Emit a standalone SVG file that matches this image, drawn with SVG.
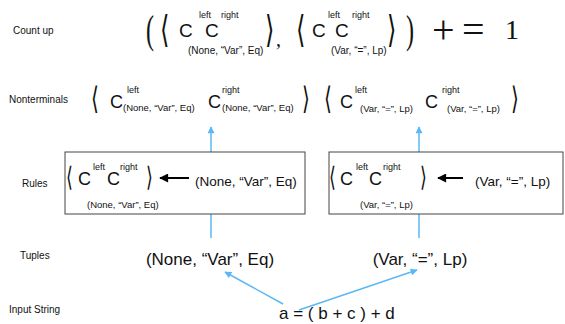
<svg xmlns="http://www.w3.org/2000/svg" width="565" height="324" viewBox="0 0 565 324">
<style>
text { font-family: "Liberation Sans", Arial, sans-serif; fill: #111; }
.lbl { font-size: 10px; }
.C1 { font-size: 19px; }
.C2 { font-size: 18px; }
.sup { font-size: 9px; }
.sub { font-size: 10px; }
.sub2 { font-size: 9.5px; }
.tup { font-size: 13.5px; }
.big { font-size: 17px; }
.br { font-family: "DejaVu Sans", sans-serif; }
.math { font-family: "Liberation Serif", serif; }
.blue { stroke: #5BB8F5; stroke-width: 1.5; fill: none; }
.box { fill: #fff; stroke: #444; stroke-width: 1; }
.blk { stroke: #000; stroke-width: 2; fill: none; }
</style>
<defs>
<marker id="bh" viewBox="0 0 10 10" refX="9" refY="5" markerUnits="userSpaceOnUse" markerWidth="8" markerHeight="7" orient="auto">
<path d="M0,0 L10,5 L0,10 Z" fill="#5BB8F5"/>
</marker>
<marker id="kh" viewBox="0 0 10 10" refX="9" refY="5" markerUnits="userSpaceOnUse" markerWidth="12" markerHeight="9" orient="auto">
<path d="M0,0 L10,5 L0,10 Z" fill="#000"/>
</marker>
</defs>

<g id="labels">
<text class="lbl" x="13" y="34">Count up</text>
<text class="lbl" x="9" y="103">Nonterminals</text>
<text class="lbl" x="22" y="187">Rules</text>
<text class="lbl" x="20" y="259">Tuples</text>
<text class="lbl" x="9" y="313">Input String</text>
</g>

<g id="connectors">
<path class="blue" d="M211,238 V127" marker-end="url(#bh)"/>
<path class="blue" d="M419,238 V127" marker-end="url(#bh)"/>
<path class="blue" d="M283,304 L225,272" marker-end="url(#bh)"/>
<path class="blue" d="M299,310 L417,270" marker-end="url(#bh)"/>
</g>

<g id="countup">
<text class="math" font-size="40" transform="translate(146,43) scale(0.6,1)">(</text>
<text class="br" font-size="37" transform="translate(160,42) scale(0.65,1)">⟨</text>
<text class="C1" x="179" y="37">C</text>
<text class="sup" x="199" y="18">left</text>
<text class="C1" x="205" y="37">C</text>
<text class="sup" x="221" y="18">right</text>
<text class="sub" x="188" y="54">(None, “Var”, Eq)</text>
<text class="br" font-size="37" transform="translate(265,42) scale(0.65,1)">⟩</text>
<text class="math" font-size="20" x="276" y="46">,</text>
<text class="br" font-size="37" transform="translate(296,42) scale(0.65,1)">⟨</text>
<text class="C1" x="312" y="37">C</text>
<text class="sup" x="328" y="18">left</text>
<text class="C1" x="335" y="37">C</text>
<text class="sup" x="352" y="18">right</text>
<text class="sub" x="331" y="54">(Var, “=”, Lp)</text>
<text class="br" font-size="37" transform="translate(387,42) scale(0.65,1)">⟩</text>
<text class="math" font-size="40" transform="translate(406,43) scale(0.6,1)">)</text>
<text class="math" font-size="40" x="432" y="43">+</text>
<text class="math" font-size="40" x="462" y="43">=</text>
<text class="math" font-size="28" x="505" y="39">1</text>
</g>

<g id="nonterminals">
<text class="br" font-size="31" transform="translate(91,109) scale(0.65,1)">⟨</text>
<text class="C2" x="110" y="108">C</text>
<text class="sup" x="127" y="93">left</text>
<text class="sub2" x="123" y="111">(None, “Var”, Eq)</text>
<text class="C2" x="208" y="108">C</text>
<text class="sup" x="222" y="93">right</text>
<text class="sub2" x="222" y="111">(None, “Var”, Eq)</text>
<text class="br" font-size="31" transform="translate(302,109) scale(0.65,1)">⟩</text>
<text class="br" font-size="31" transform="translate(324,109) scale(0.65,1)">⟨</text>
<text class="C2" x="340" y="108">C</text>
<text class="sup" x="355" y="93">left</text>
<text class="sub2" x="360" y="112">(Var, “=”, Lp)</text>
<text class="C2" x="425" y="108">C</text>
<text class="sup" x="442" y="93">right</text>
<text class="sub2" x="447" y="112">(Var, “=”, Lp)</text>
<text class="br" font-size="31" transform="translate(511,109) scale(0.65,1)">⟩</text>
</g>

<g id="rule1">
<rect class="box" x="65" y="152" width="240" height="62"/>
<text class="br" font-size="27" transform="translate(66,186) scale(0.65,1)">⟨</text>
<text class="C2" x="78" y="185">C</text>
<text class="sup" x="93" y="170">left</text>
<text class="C2" x="107" y="185">C</text>
<text class="sup" x="120" y="170">right</text>
<text class="sub2" x="87" y="208">(None, “Var”, Eq)</text>
<text class="br" font-size="27" transform="translate(146,186) scale(0.65,1)">⟩</text>
<path class="blk" d="M189,178 H160" marker-end="url(#kh)"/>
<text class="tup" x="195" y="186">(None, “Var”, Eq)</text>
</g>

<g id="rule2">
<rect class="box" x="329" y="152" width="234" height="62"/>
<text class="br" font-size="27" transform="translate(329,186) scale(0.65,1)">⟨</text>
<text class="C2" x="340" y="185">C</text>
<text class="sup" x="356" y="170">left</text>
<text class="C2" x="369" y="185">C</text>
<text class="sup" x="383" y="170">right</text>
<text class="sub2" x="360" y="208">(Var, “=”, Lp)</text>
<text class="br" font-size="27" transform="translate(420,186) scale(0.65,1)">⟩</text>
<path class="blk" d="M463,178 H438" marker-end="url(#kh)"/>
<text class="tup" x="475" y="186">(Var, “=”, Lp)</text>
</g>

<g id="tuple1"><text class="big" x="210" y="265" text-anchor="middle">(None, “Var”, Eq)</text></g>
<g id="tuple2"><text class="big" x="420" y="265" text-anchor="middle">(Var, “=”, Lp)</text></g>
<g id="input"><text class="big" x="279" y="319">a = ( b + c ) + d</text></g>
</svg>
